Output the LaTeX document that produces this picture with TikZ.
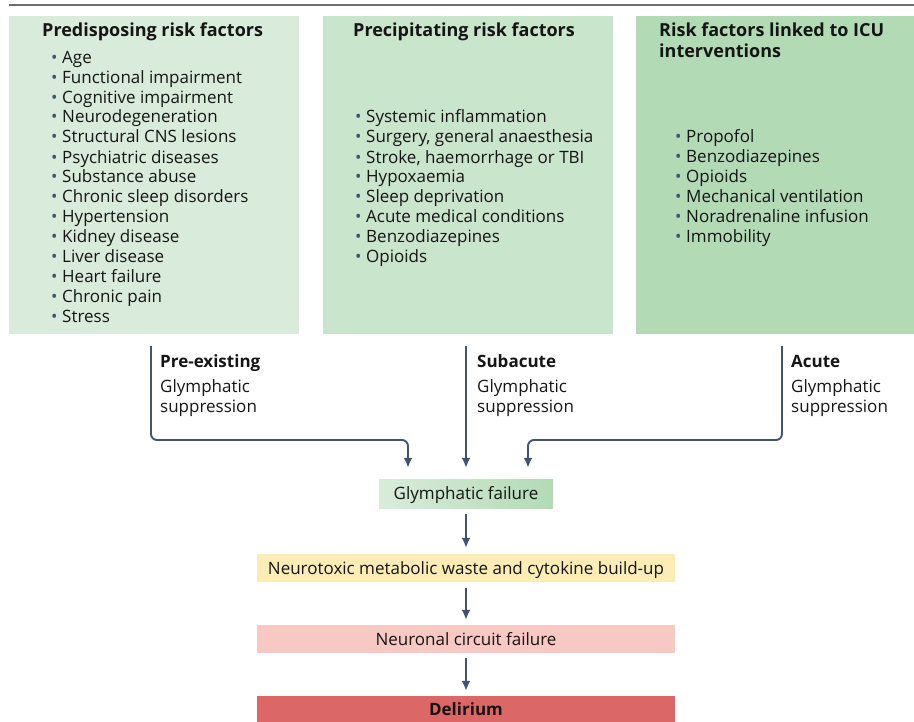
\documentclass[tikz,border=0pt]{standalone}
\usepackage{fontspec}
\setmainfont{Open Sans}
\usepackage{xcolor}
\usetikzlibrary{arrows.meta, positioning}
\definecolor{predispcol}{HTML}{D9ECDB}
\definecolor{precipcol}{HTML}{C9E5CC}
\definecolor{icucol}{HTML}{B2DBB5}
\definecolor{wastecol}{HTML}{FDEDB5}
\definecolor{circuitcol}{HTML}{F8C8C3}
\definecolor{deliriumcol}{HTML}{DC6767}
\definecolor{flowcol}{HTML}{3F5373}
\definecolor{rulecol}{HTML}{6E6E6E}
\definecolor{inkcol}{HTML}{151515}
\newcommand{\blt}{\makebox[11pt][l]{\textcolor{flowcol}{\textbullet}}}

\begin{document}
\begin{tikzpicture}[x=1pt, y=-1pt, text=inkcol,
            panel/.style={rectangle, inner sep=0pt, anchor=north west, minimum height=318pt},
            head/.style={anchor=base west, inner sep=0pt, align=left, font=\bfseries\fontsize{18}{21}\selectfont},
            items/.style={anchor=base west, inner sep=0pt, align=left, font=\fontsize{17}{20}\selectfont},
            stage/.style={rectangle, inner sep=0pt, minimum width=418pt, minimum height=28pt, text height=16pt, text depth=4pt, font=\fontsize{17}{20}\selectfont},
            flow/.style={draw=flowcol, line width=1.9pt, rounded corners=6pt, -{Latex[length=10pt, width=9pt]}}]
            \useasboundingbox (0,0) rectangle (914,722);
            \draw[rulecol, line width=2pt] (9,5) -- (914,5);

            \node[panel, fill=predispcol, minimum width=290pt] (predisp) at (9,16) {};
            \node[panel, fill=precipcol, minimum width=290pt] (precip) at (323,16) {};
            \node[panel, fill=icucol, minimum width=278pt] (icu) at (636,16) {};

            \node[head] (predisphead) at (42,37) {Predisposing risk factors};
            \node[head] (preciphead) at (353,37) {Precipitating risk factors};
            \node[head] (icuhead) at (659,58) {Risk factors linked to ICU\\interventions};

            \node[items] (predisplist) at (51,323) {\blt Age\\\blt Functional impairment\\\blt Cognitive impairment\\
                \blt Neurodegeneration\\\blt Structural CNS lesions\\\blt Psychiatric diseases\\\blt Substance abuse\\
                \blt Chronic sleep disorders\\\blt Hypertension\\\blt Kidney disease\\\blt Liver disease\\
                \blt Heart failure\\\blt Chronic pain\\\blt Stress};
            \node[items] (preciplist) at (355,263) {\blt Systemic inflammation\\\blt Surgery, general anaesthesia\\
                \blt Stroke, haemorrhage or TBI\\\blt Hypoxaemia\\\blt Sleep deprivation\\
                \blt Acute medical conditions\\\blt Benzodiazepines\\\blt Opioids};
            \node[items] (iculist) at (675,243) {\blt Propofol\\\blt Benzodiazepines\\\blt Opioids\\
                \blt Mechanical ventilation\\\blt Noradrenaline infusion\\\blt Immobility};

            \node[items] (preexisting) at (160,412) {\textbf{Pre-existing}\\[5pt]Glymphatic\\suppression};
            \node[items] (subacute) at (477,412) {\textbf{Subacute}\\[5pt]Glymphatic\\suppression};
            \node[items] (acute) at (791,412) {\textbf{Acute}\\[5pt]Glymphatic\\suppression};

            \node[stage, minimum width=174pt, minimum height=29pt, left color=predispcol, right color=icucol] (glymph) at (466,493.5) {Glymphatic failure};
            \node[stage, fill=wastecol] (waste) at (466,568) {Neurotoxic metabolic waste and cytokine build-up};
            \node[stage, fill=circuitcol] (circuit) at (466,639) {Neuronal circuit failure};
            \node[stage, fill=deliriumcol, minimum height=26pt, font=\bfseries\fontsize{17}{20}\selectfont] (delirium) at (466,709) {Delirium};

            \coordinate (predispout) at (151,346);
            \coordinate (precipout) at (466,346);
            \coordinate (icuout) at (782,346);
            \draw[flow, shorten >=11pt] (predispout) -- (151,440) -| ([xshift=-58pt]glymph.north);
            \draw[flow, shorten >=11pt] (precipout) -- (glymph.north);
            \draw[flow, shorten >=11pt] (icuout) -- (782,440) -| ([xshift=62pt]glymph.north);

            \draw[flow, shorten <=6pt, shorten >=6pt] (glymph) -- (waste);
            \draw[flow, shorten <=6pt, shorten >=5pt] (waste) -- (circuit);
            \draw[flow, shorten <=5pt, shorten >=5pt] (circuit) -- (delirium);
        \end{tikzpicture}
\end{document}
